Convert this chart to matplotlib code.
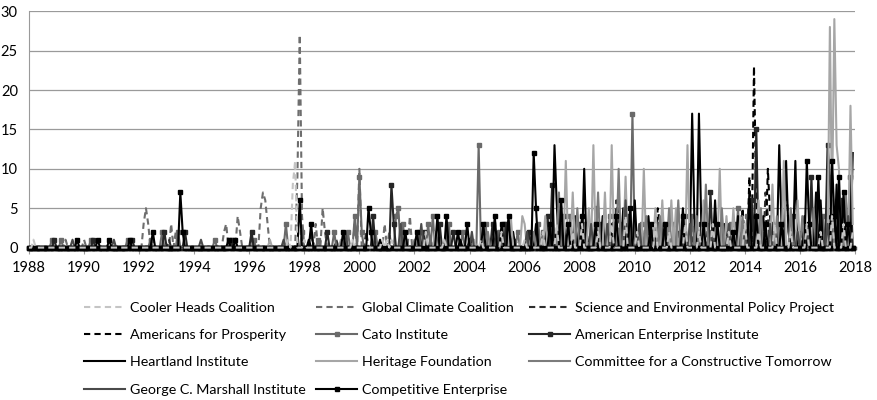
import numpy as np
import pandas as pd
import matplotlib
matplotlib.use('Agg')
import matplotlib.pyplot as plt
import matplotlib.dates as mdates

# monthly counts, only the non-zero months are listed (everything else reads as 0)
cooler_heads = {'1988-03': 1, '1997-06': 1, '1997-09': 11, '1997-08': 8, '1998-01': 1, '1999-10': 1,
                '2000-11': 1, '2001-01': 1, '2001-03': 1, '2002-06': 2, '2003-02': 1, '2004-06': 1,
                '2005-03': 2, '2006-01': 1, '2006-09': 2, '2007-03': 3, '2007-10': 2, '2008-02': 3,
                '2008-09': 2, '2009-03': 3, '2009-09': 4, '2010-02': 2, '2010-10': 3, '2011-04': 2,
                '2011-11': 3, '2012-05': 2, '2012-11': 3, '2013-06': 2, '2014-01': 3, '2014-07': 2,
                '2015-02': 3, '2015-09': 2, '2016-04': 3, '2016-10': 2, '2017-03': 4, '2017-08': 3,
                '2017-12': 2}
global_climate = {'1989-05': 1, '1990-01': 1, '1990-06': 1, '1992-03': 3, '1992-04': 5, '1992-05': 3,
                  '1993-03': 3, '1993-05': 2, '1995-02': 2, '1995-03': 3, '1995-08': 4, '1995-09': 2,
                  '1996-06': 5, '1996-07': 7, '1996-08': 6, '1996-09': 3, '1997-10': 9, '1997-11': 27,
                  '1997-12': 4, '1998-06': 3, '1998-09': 5, '1998-10': 2, '1999-11': 3, '2000-01': 10,
                  '2000-12': 3, '2001-02': 2, '2001-11': 4, '2002-03': 1}
sepp = {'1993-02': 1, '1996-02': 1, '1998-04': 2, '1999-03': 1, '2000-04': 2, '2002-08': 1, '2005-06': 1,
        '2007-08': 3, '2008-06': 2, '2009-05': 6, '2009-06': 4, '2010-08': 3, '2011-02': 2, '2012-03': 3,
        '2013-03': 2, '2014-10': 7, '2014-11': 4, '2015-07': 8, '2015-08': 3, '2016-02': 2, '2017-06': 3}
afp = {'2005-09': 1, '2007-02': 2, '2008-04': 2, '2009-08': 3, '2010-11': 5, '2010-12': 3, '2011-08': 2,
       '2012-09': 3, '2013-05': 2, '2013-12': 5, '2014-03': 9, '2014-05': 23, '2014-06': 6, '2014-11': 10,
       '2014-12': 4, '2015-06': 3, '2016-01': 2, '2016-07': 3, '2017-02': 4, '2017-09': 3}
cato = {'1988-11': 1, '1989-03': 1, '1990-04': 1, '1991-08': 1, '1992-06': 1, '1992-11': 2, '1993-06': 2,
        '1994-10': 1, '1995-06': 1, '1996-03': 1, '1997-05': 3, '1997-12': 2, '1998-07': 1, '1999-02': 2,
        '1999-08': 2, '1999-11': 4, '2000-01': 9, '2000-02': 2, '2000-08': 2, '2001-05': 4, '2001-06': 5,
        '2001-08': 3, '2002-03': 2, '2002-07': 3, '2002-09': 4, '2003-04': 3, '2003-10': 2, '2004-05': 13,
        '2004-08': 3, '2005-02': 2, '2005-04': 3, '2005-10': 2, '2006-07': 3, '2006-09': 2, '2007-04': 5,
        '2007-09': 4, '2008-03': 3, '2008-08': 5, '2009-02': 4, '2009-07': 3, '2009-12': 17, '2010-04': 3,
        '2010-09': 2, '2011-06': 3, '2011-11': 4, '2012-02': 4, '2012-10': 2, '2013-07': 3, '2013-10': 5,
        '2014-02': 4, '2014-08': 3, '2015-04': 3, '2015-11': 2, '2016-05': 3, '2016-11': 4, '2017-04': 5,
        '2017-10': 3}
aei = {'1988-12': 1, '1990-05': 1, '1991-10': 1, '1992-12': 2, '1993-09': 2, '1995-05': 1, '1996-02': 2,
       '1998-11': 2, '2000-07': 4, '2001-03': 8, '2001-04': 3, '2002-05': 2, '2002-12': 3, '2003-06': 2,
       '2004-01': 1, '2004-11': 3, '2005-05': 3, '2006-03': 2, '2006-11': 4, '2007-01': 8, '2007-06': 4,
       '2008-01': 3, '2008-10': 3, '2009-04': 3, '2009-10': 4, '2010-06': 2, '2010-11': 3, '2011-01': 3,
       '2011-09': 2, '2012-06': 3, '2012-10': 7, '2013-09': 3, '2014-04': 6, '2014-06': 15, '2015-01': 3,
       '2015-10': 4, '2016-06': 9, '2017-01': 13, '2017-02': 9, '2017-07': 6, '2017-11': 9}
heartland = {'1998-03': 1, '2000-10': 1, '2003-09': 1, '2005-08': 2, '2006-06': 3, '2006-10': 2,
             '2007-02': 13, '2007-03': 6, '2007-11': 4, '2008-03': 10, '2008-11': 4, '2009-03': 3,
             '2009-08': 5, '2010-01': 6, '2010-07': 4, '2011-03': 3, '2011-10': 5, '2012-02': 17,
             '2012-03': 4, '2012-05': 17, '2012-06': 3, '2012-12': 6, '2013-04': 3, '2013-10': 4,
             '2014-03': 7, '2014-09': 4, '2015-04': 13, '2015-05': 3, '2015-07': 11, '2015-08': 2,
             '2015-11': 11, '2016-03': 4, '2016-08': 7, '2016-10': 6, '2017-05': 8, '2017-09': 6,
             '2017-12': 12}
heritage = {'1996-10': 1, '1999-05': 1, '2002-10': 2, '2004-03': 1, '2005-07': 4, '2005-12': 4,
            '2006-01': 3, '2006-10': 4, '2007-07': 11, '2007-10': 7, '2008-05': 5, '2008-07': 13,
            '2008-12': 7, '2009-03': 13, '2009-09': 9, '2010-05': 10, '2010-10': 5, '2011-01': 6,
            '2011-05': 6, '2011-07': 5, '2011-12': 13, '2012-07': 6, '2013-02': 10, '2013-05': 4,
            '2013-08': 5, '2013-11': 4, '2014-07': 6, '2015-01': 8, '2015-06': 11, '2015-12': 6,
            '2016-09': 7, '2017-02': 28, '2017-03': 5, '2017-04': 29, '2017-05': 13, '2017-06': 10,
            '2017-08': 4, '2017-11': 18, '2017-12': 3}
cfact = {'2002-01': 1, '2004-09': 2, '2006-05': 2, '2007-04': 7, '2007-12': 5, '2008-09': 7, '2009-06': 10,
         '2009-11': 5, '2010-06': 4, '2010-12': 4, '2011-04': 5, '2011-08': 6, '2012-04': 4, '2012-08': 8,
         '2013-03': 5, '2013-12': 4, '2014-08': 5, '2015-03': 4, '2015-09': 5, '2016-02': 4, '2016-07': 5,
         '2017-03': 6, '2017-09': 7}
marshall = {'1989-08': 1, '1991-02': 1, '1994-04': 1, '1997-04': 1, '1999-07': 2, '2001-07': 3, '2002-04': 3,
            '2003-03': 2, '2004-02': 2, '2005-01': 2, '2006-02': 2, '2007-05': 3, '2008-06': 3, '2009-01': 3,
            '2009-09': 6, '2010-03': 3, '2011-02': 2, '2012-01': 3, '2012-11': 2, '2013-06': 3, '2014-01': 2,
            '2014-12': 3, '2015-12': 2, '2016-04': 3, '2017-01': 3, '2017-10': 4}
cei = {'1989-10': 1, '1990-07': 1, '1990-12': 1, '1991-09': 1, '1992-07': 2, '1993-07': 7, '1993-08': 2,
       '1995-04': 1, '1995-07': 1, '1997-11': 6, '1998-04': 3, '1999-06': 2, '2000-05': 5, '2000-06': 2,
       '2001-09': 2, '2002-02': 2, '2002-11': 4, '2003-03': 4, '2003-08': 2, '2003-12': 3, '2004-07': 3,
       '2004-12': 4, '2005-03': 3, '2005-06': 4, '2006-05': 12, '2006-06': 5, '2006-12': 3, '2007-05': 6,
       '2007-08': 3, '2008-02': 4, '2008-08': 3, '2009-05': 4, '2009-11': 5, '2010-08': 3, '2011-02': 3,
       '2011-10': 4, '2012-07': 3, '2013-01': 3, '2013-08': 2, '2014-06': 4, '2014-10': 3, '2015-05': 3,
       '2016-04': 11, '2016-05': 3, '2016-09': 9, '2017-03': 11, '2017-04': 4, '2017-06': 9, '2017-08': 7,
       '2017-10': 3}

months = pd.date_range('1988-01-01', '2017-12-01', freq='MS')

def monthly(d):
    s = pd.Series(d, dtype=float)
    s.index = pd.to_datetime(s.index)
    return s.reindex(months, fill_value=0.0)

# name, data, color, linestyle, marker
series = [
    ('Cooler Heads Coalition', cooler_heads, '#c4c4c4', '--', None),
    ('Global Climate Coalition', global_climate, '#6e6e6e', '--', None),
    ('Science and Environmental Policy Project', sepp, '#2e2e2e', '--', None),
    ('Americans for Prosperity', afp, '#000000', '--', None),
    ('Cato Institute', cato, '#6a6a6a', '-', 's'),
    ('American Enterprise Institute', aei, '#262626', '-', 's'),
    ('Heartland Institute', heartland, '#000000', '-', None),
    ('Heritage Foundation', heritage, '#a6a6a6', '-', None),
    ('Committee for a Constructive Tomorrow', cfact, '#7c7c7c', '-', None),
    ('George C. Marshall Institute', marshall, '#4a4a4a', '-', None),
    ('Competitive Enterprise', cei, '#000000', '-', 's'),
]

plt.rcParams['font.family'] = ['Lato', 'DejaVu Sans']

fig = plt.figure(figsize=(8.77, 4.0), dpi=100)
ax = fig.add_axes([0.033, 0.381, 0.942, 0.591])

handles = {}
for i, (name, d, col, ls, mk) in enumerate(series):
    s = monthly(d)
    z = 3 + i * 0.1
    if name == 'Cooler Heads Coalition':
        z = 5
    ln, = ax.plot(s.index, s.values, color=col, ls=ls, lw=1.5,
                  marker=mk, ms=3.4, mfc=col, mec=col, zorder=z, clip_on=False,
                  dashes=(3, 2) if ls == '--' else (None, None))
    handles[name] = ln

ax.set_ylim(0, 30)
ax.set_yticks(range(0, 31, 5))
ax.set_xlim(pd.Timestamp('1988-01-01'), pd.Timestamp('2018-01-01'))
ax.xaxis.set_major_locator(mdates.YearLocator(2))
ax.xaxis.set_major_formatter(mdates.DateFormatter('%Y'))
ax.yaxis.grid(True, color='#9a9a9a', lw=0.9)
ax.set_axisbelow(True)
for sp in ['top', 'right']:
    ax.spines[sp].set_visible(False)
ax.spines['left'].set_color('#9a9a9a')
ax.spines['bottom'].set_color('#666666')
ax.spines['bottom'].set_linewidth(2.5)
ax.tick_params(axis='y', length=0, pad=8, labelsize=10.5)
ax.tick_params(axis='x', length=4, color='#9a9a9a', pad=6, labelsize=10.5)

# legend is laid out row by row: one legend per column so each column sits where it does in the picture
cols = [['Cooler Heads Coalition', 'Americans for Prosperity', 'Heartland Institute',
         'George C. Marshall Institute'],
        ['Global Climate Coalition', 'Cato Institute', 'Heritage Foundation', 'Competitive Enterprise'],
        ['Science and Environmental Policy Project', 'American Enterprise Institute',
         'Committee for a Constructive Tomorrow']]
col_x = [84, 316, 529]
for names, x0 in zip(cols, col_x):
    leg = fig.legend([handles[n] for n in names], names, loc='upper left',
                     bbox_to_anchor=(x0 / 877, 1 - 302 / 400), frameon=False,
                     borderpad=0, borderaxespad=0, handlelength=2.9, handletextpad=0.35,
                     labelspacing=1.06, fontsize=10.3)

fig.savefig('out.png', dpi=100)
